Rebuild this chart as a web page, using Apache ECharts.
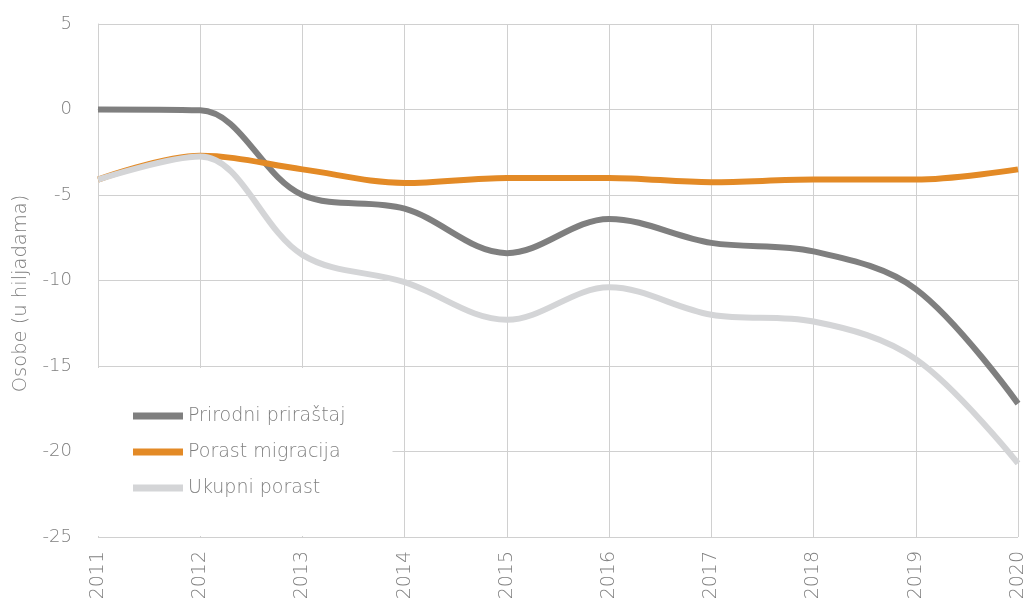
<!DOCTYPE html>
<html>
<head>
<meta charset="utf-8">
<script src="https://cdn.jsdelivr.net/npm/echarts@6/dist/echarts.min.js"></script>
<style>
  html, body { margin: 0; padding: 0; background: #fff; }
  #chart { width: 1032px; height: 598px; }
</style>
</head>
<body>
<div id="chart"></div>
<script>
let years = ['2011', '2012', '2013', '2014', '2015', '2016', '2017', '2018', '2019', '2020'];

// values in thousands
let prirodniPrirastaj = [0, -0.05, -5.0, -5.8, -8.4, -6.4, -7.8, -8.3, -10.5, -17.2];
let porastMigracija = [-4.1, -2.7, -3.5, -4.3, -4.0, -4.0, -4.25, -4.1, -4.1, -3.5];
let ukupniPorast = [-4.1, -2.75, -8.5, -10.1, -12.3, -10.4, -12.0, -12.4, -14.6, -20.7];

const fontFam = 'DejaVu Sans';
const textColor = '#7f7f7f';
const gridColor = '#d0d0d0';

let makeSeries = (name, data, color) => {
  return {
    name: name,
    type: 'line',
    data: data,
    smooth: 0.35,
    symbol: 'none',
    lineStyle: { width: 6, color: color },
    itemStyle: { color: color }
  };
};

let chart = echarts.init(document.getElementById('chart'));

let options = {
  backgroundColor: '#fff',
  animation: false,
  grid: { left: 98, right: 14, top: 24, bottom: 61, containLabel: false, outerBoundsMode: 'none' },
  legend: {
    orient: 'vertical',
    left: 98,
    top: 368,
    padding: [38, 47, 38, 35],
    backgroundColor: '#fff',
    itemWidth: 50,
    itemHeight: 7,
    itemGap: 16,
    icon: 'rect',
    textStyle: { fontFamily: fontFam, fontWeight: 200, fontSize: 19, color: textColor, lineHeight: 20 },
    data: ['Prirodni priraštaj', 'Porast migracija', 'Ukupni porast']
  },
  xAxis: {
    type: 'category',
    data: years,
    boundaryGap: false,
    axisLine: { lineStyle: { color: gridColor, width: 1 } },
    axisTick: { show: false },
    splitLine: { show: true, lineStyle: { color: gridColor, width: 1 } },
    axisLabel: {
      rotate: 90,
      margin: 14,
      fontFamily: fontFam,
      fontWeight: 200,
      fontSize: 19,
      color: textColor
    }
  },
  yAxis: {
    type: 'value',
    min: -25,
    max: 5,
    interval: 5,
    name: 'Osobe (u hiljadama)',
    nameLocation: 'middle',
    nameGap: 67,
    nameTextStyle: { fontFamily: fontFam, fontWeight: 200, fontSize: 19.5, color: textColor, padding: [0, 26, 0, 0] },
    axisLine: { show: true, lineStyle: { color: gridColor, width: 1 } },
    axisTick: { show: false },
    splitLine: { lineStyle: { color: gridColor, width: 1 } },
    axisLabel: {
      margin: 26,
      fontFamily: fontFam,
      fontWeight: 200,
      fontSize: 18,
      color: textColor
    }
  },
  series: [
    makeSeries('Prirodni priraštaj', prirodniPrirastaj, '#7f7f7f'),
    makeSeries('Porast migracija', porastMigracija, '#e38a26'),
    makeSeries('Ukupni porast', ukupniPorast, '#d4d5d7')
  ]
};

chart.setOption(options);
</script>
</body>
</html>
